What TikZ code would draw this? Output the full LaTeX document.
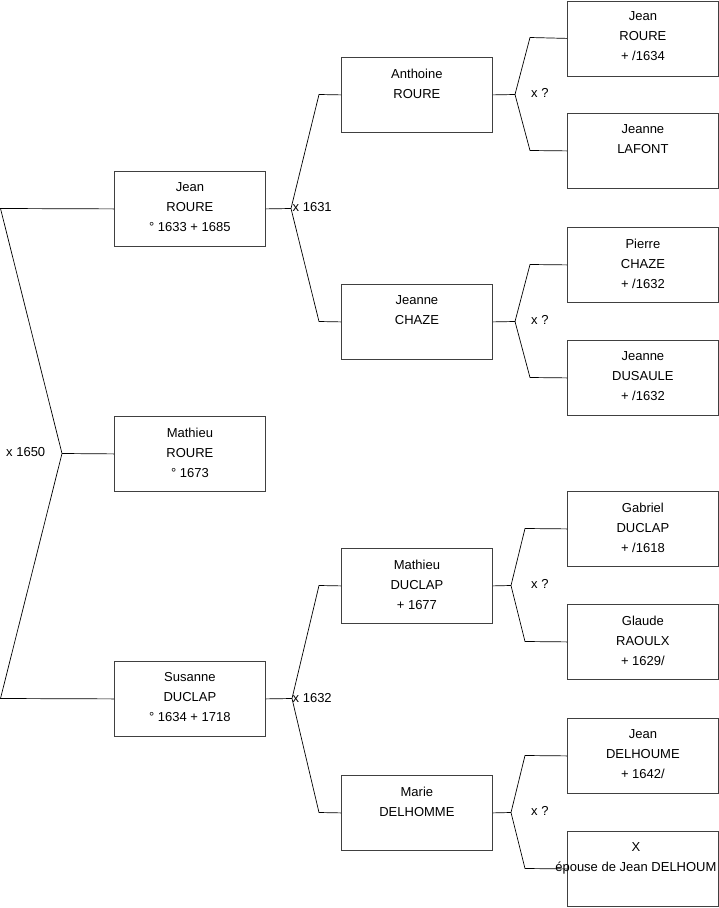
\documentclass[tikz,border=0pt]{standalone}
\usepackage{fontspec}
\setmainfont{Liberation Sans}
\begin{document}
\begin{tikzpicture}[x=1pt,y=-1pt,
  person/.style={draw=black!75,line width=0.8pt,minimum width=151pt,minimum height=75pt,anchor=north west,inner sep=0pt},
  ptext/.style={anchor=north,align=center,font=\fontsize{13}{20}\selectfont,inner sep=0pt,yshift=-11.5pt},
  lbl/.style={font=\fontsize{13}{15}\selectfont,inner sep=0pt},
  link/.style={draw=black,line width=0.7pt}]
\useasboundingbox (0,0) rectangle (719,908);
% boxes
\node[person] (jr) at (114,171) {};
\node[person] (mr) at (114,416) {};
\node[person] (sd) at (114,661) {};
\node[person] (ar) at (341,57) {};
\node[person] (jc) at (341,284) {};
\node[person] (md) at (341,548) {};
\node[person] (mdel) at (341,775) {};
\node[person] (g1) at (567,0.5) {};
\node[person] (g2) at (567,113) {};
\node[person] (g3) at (567,227) {};
\node[person] (g4) at (567,340) {};
\node[person] (g5) at (567,491) {};
\node[person] (g6) at (567,604) {};
\node[person] (g7) at (567,718) {};
\node[person] (g8) at (567,831) {};
% texts
\node[ptext] (tjr) at (jr.north) {Jean\\ROURE\\° 1633 + 1685};
\node[ptext] (tmr) at (mr.north) {Mathieu\\ROURE\\° 1673};
\node[ptext] (tsd) at (sd.north) {Susanne\\DUCLAP\\° 1634 + 1718};
\node[ptext] (tar) at (ar.north) {Anthoine\\ROURE};
\node[ptext] (tjc) at (jc.north) {Jeanne\\CHAZE};
\node[ptext] (tmd) at (md.north) {Mathieu\\DUCLAP\\+ 1677};
\node[ptext] (tmdel) at (mdel.north) {Marie\\DELHOMME};
\node[ptext] (tg1) at ([yshift=0.5pt]g1.north) {Jean\\ROURE\\+ /1634};
\node[ptext] (tg2) at (g2.north) {Jeanne\\LAFONT};
\node[ptext] (tg3) at (g3.north) {Pierre\\CHAZE\\+ /1632};
\node[ptext] (tg4) at (g4.north) {Jeanne\\DUSAULE\\+ /1632};
\node[ptext] (tg5) at (g5.north) {Gabriel\\DUCLAP\\+ /1618};
\node[ptext] (tg6) at (g6.north) {Glaude\\RAOULX\\+ 1629/};
\node[ptext] (tg7) at (g7.north) {Jean\\DELHOUME\\+ 1642/};
% fork coordinates
\coordinate (L1) at (0.5,208.5);
\coordinate (F0) at (62,453.5);
\coordinate (L2) at (0.5,698.5);
\coordinate (F1) at (291,208.5);
\coordinate (F1a) at (319,94.5);
\coordinate (F1b) at (319,321.5);
\coordinate (F6) at (292,698.5);
\coordinate (F6a) at (319,585.5);
\coordinate (F6b) at (319,812.5);
\coordinate (F2) at (515,94.5);
\coordinate (F2a) at (530,37.5);
\coordinate (F2b) at (530,150.5);
\coordinate (F3) at (515,321.5);
\coordinate (F3a) at (530,264.5);
\coordinate (F3b) at (530,377.5);
\coordinate (F4) at (511,585.5);
\coordinate (F4a) at (525,528.5);
\coordinate (F4b) at (525,641.5);
\coordinate (F5) at (511,812.5);
\coordinate (F5a) at (525,755.5);
\coordinate (F5b) at (525,868.5);
% connectors
\draw[link] (jr.west) -- (L1) -- (F0) -- (L2) -- (sd.west);
\draw[link] (F0) -- (mr.west);
\draw[link] (jr.east) -- (F1);
\draw[link] (ar.west) -- (F1a) -- (F1) -- (F1b) -- (jc.west);
\draw[link] (sd.east) -- (F6);
\draw[link] (md.west) -- (F6a) -- (F6) -- (F6b) -- (mdel.west);
\draw[link] (ar.east) -- (F2);
\draw[link] (g1.west) -- (F2a) -- (F2) -- (F2b) -- (g2.west);
\draw[link] (jc.east) -- (F3);
\draw[link] (g3.west) -- (F3a) -- (F3) -- (F3b) -- (g4.west);
\draw[link] (md.east) -- (F4);
\draw[link] (g5.west) -- (F4a) -- (F4) -- (F4b) -- (g6.west);
\draw[link] (mdel.east) -- (F5);
\draw[link] (g7.west) -- (F5a) -- (F5) -- (F5b) -- (g8.west);
% last box text drawn over connector
\node[ptext] (tg8) at ([xshift=-7pt]g8.north) {X\\épouse de Jean DELHOUM};
% labels
\node[lbl,anchor=west] (x1650) at (6,452) {x 1650};
\node[lbl,anchor=west] (x1631) at (292.5,207.5) {x 1631};
\node[lbl,anchor=west] (x1632) at (292.5,698) {x 1632};
\node[lbl,anchor=west] (q1) at (531,93) {x ?};
\node[lbl,anchor=west] (q2) at (531,320) {x ?};
\node[lbl,anchor=west] (q3) at (531,584) {x ?};
\node[lbl,anchor=west] (q4) at (531,811) {x ?};
\end{tikzpicture}
\end{document}
